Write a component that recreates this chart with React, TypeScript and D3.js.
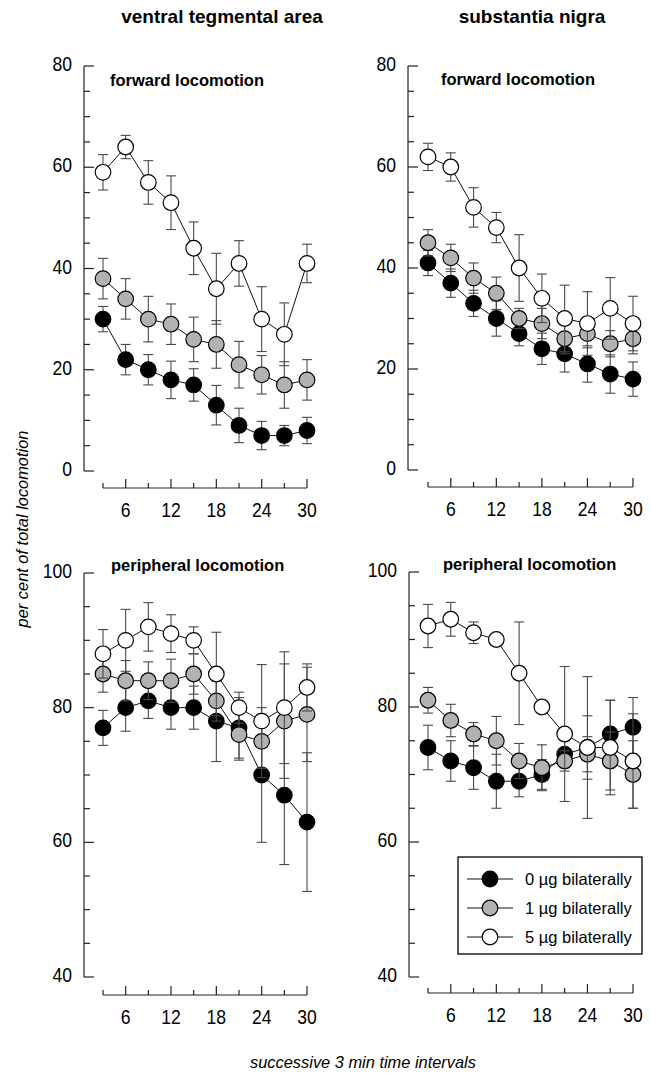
import { useRef, useEffect } from 'react'
import * as d3 from 'd3'

// time intervals (min)
const intervals = [3, 6, 9, 12, 15, 18, 21, 24, 27, 30]
const xTicks = [3, 6, 9, 12, 15, 18, 21, 24, 27, 30]
const xTickLabels = [6, 12, 18, 24, 30]

const doseLabels = ['0 µg bilaterally', '1 µg bilaterally', '5 µg bilaterally']
const doseFills = ['#000000', '#b2b2b2', '#ffffff']

// ventral tegmental area - forward locomotion
const vtaFwd0 = [30, 22, 20, 18, 17, 13, 9, 7, 7, 8]
const vtaFwd0Err = [2.5, 3, 3, 3.7, 3.2, 3.9, 3.4, 2.8, 2, 2.6]
const vtaFwd1 = [38, 34, 30, 29, 26, 25, 21, 19, 17, 18]
const vtaFwd1Err = [4, 4, 4.5, 4, 4.4, 4.7, 4.6, 3.8, 4.6, 4]
const vtaFwd5 = [59, 64, 57, 53, 44, 36, 41, 30, 27, 41]
const vtaFwd5Err = [3.5, 2.3, 4.3, 5.3, 5.2, 7, 4.5, 6.4, 6.2, 3.8]

// substantia nigra - forward locomotion
const snFwd0 = [41, 37, 33, 30, 27, 24, 23, 21, 19, 18]
const snFwd0Err = [2.5, 2.8, 2.6, 3.5, 2.4, 3.1, 3.6, 3.6, 3.8, 3.4]
const snFwd1 = [45, 42, 38, 35, 30, 29, 26, 27, 25, 26]
const snFwd1Err = [2.6, 2.7, 3, 3.2, 2, 3, 3, 2.8, 2.6, 3]
const snFwd5 = [62, 60, 52, 48, 40, 34, 30, 29, 32, 29]
const snFwd5Err = [2.7, 2.8, 3.9, 3, 6.6, 4.8, 6.6, 6.3, 6.1, 5.4]

// ventral tegmental area - peripheral locomotion
const vtaPer0 = [77, 80, 81, 80, 80, 78, 77, 70, 67, 63]
const vtaPer0Err = [2.6, 3.5, 2.6, 3.2, 3.2, 6, 4.5, 10, 10.3, 10.3]
const vtaPer1 = [85, 84, 84, 84, 85, 81, 76, 75, 78, 79]
const vtaPer1Err = [2.7, 3, 2.8, 3.2, 3, 3, 3.8, 4, 8.5, 7]
const vtaPer5 = [88, 90, 92, 91, 90, 85, 80, 78, 80, 83]
const vtaPer5Err = [3.6, 4.6, 3.6, 2.8, 2, 6.2, 2.3, 8.4, 8.3, 3.5]

// substantia nigra - peripheral locomotion
const snPer0 = [74, 72, 71, 69, 69, 70, 73, 74, 76, 77]
const snPer0Err = [3.3, 3, 3.2, 4, 2.3, 2.2, 2, 4.7, 5, 4.4]
const snPer1 = [81, 78, 76, 75, 72, 71, 72, 73, 72, 70]
const snPer1Err = [1.9, 2.4, 1.7, 3.6, 2.6, 3.4, 1.5, 2.6, 4.3, 5]
const snPer5 = [92, 93, 91, 90, 85, 80, 76, 74, 74, 72]
const snPer5Err = [3.2, 2.5, 1.6, 0.5, 7.6, 0.5, 10, 10.5, 7, 7]

const fwdYTicks = [0, 20, 40, 60, 80]
const perYTicks = [40, 60, 80, 100]

const FONT = "'Liberation Sans', Arial, Helvetica, sans-serif"

interface Panel {
  title: string
  yDomain: [number, number]
  yTicks: number[]
  xRange: [number, number]
  yRange: [number, number]
  axisX: number
  axisY: number
  titleX: number
  titleY: number
  series: { values: number[]; errs: number[]; fill: string }[]
}

const panels: Panel[] = [
  {
    title: 'forward locomotion', yDomain: [0, 80], yTicks: fwdYTicks,
    xRange: [103, 307], yRange: [471, 66], axisX: 84, axisY: 488, titleX: 110, titleY: 86,
    series: [
      { values: vtaFwd0, errs: vtaFwd0Err, fill: doseFills[0] },
      { values: vtaFwd1, errs: vtaFwd1Err, fill: doseFills[1] },
      { values: vtaFwd5, errs: vtaFwd5Err, fill: doseFills[2] },
    ],
  },
  {
    title: 'forward locomotion', yDomain: [0, 80], yTicks: fwdYTicks,
    xRange: [428, 633], yRange: [470, 66], axisX: 408, axisY: 487, titleX: 441, titleY: 85,
    series: [
      { values: snFwd0, errs: snFwd0Err, fill: doseFills[0] },
      { values: snFwd1, errs: snFwd1Err, fill: doseFills[1] },
      { values: snFwd5, errs: snFwd5Err, fill: doseFills[2] },
    ],
  },
  {
    title: 'peripheral locomotion', yDomain: [40, 100], yTicks: perYTicks,
    xRange: [103, 307], yRange: [977, 573], axisX: 84, axisY: 995, titleX: 111, titleY: 571,
    series: [
      { values: vtaPer0, errs: vtaPer0Err, fill: doseFills[0] },
      { values: vtaPer1, errs: vtaPer1Err, fill: doseFills[1] },
      { values: vtaPer5, errs: vtaPer5Err, fill: doseFills[2] },
    ],
  },
  {
    title: 'peripheral locomotion', yDomain: [40, 100], yTicks: perYTicks,
    xRange: [428, 633], yRange: [977, 572], axisX: 409, axisY: 993, titleX: 443, titleY: 570,
    series: [
      { values: snPer0, errs: snPer0Err, fill: doseFills[0] },
      { values: snPer1, errs: snPer1Err, fill: doseFills[1] },
      { values: snPer5, errs: snPer5Err, fill: doseFills[2] },
    ],
  },
]

export default function App() {
  const svgRef = useRef<SVGSVGElement>(null)

  useEffect(() => {
    const svg = d3.select(svgRef.current)
    svg.selectAll('*').remove()

    // column headings
    svg.append('text').attr('x', 222).attr('y', 23).attr('text-anchor', 'middle')
      .attr('font-size', 19).attr('font-weight', 'bold').text('ventral tegmental area')
    svg.append('text').attr('x', 532).attr('y', 23).attr('text-anchor', 'middle')
      .attr('font-size', 19).attr('font-weight', 'bold').text('substantia nigra')

    panels.forEach(p => {
      const x = d3.scaleLinear().domain([3, 30]).range(p.xRange)
      const y = d3.scaleLinear().domain(p.yDomain).range(p.yRange)
      const g = svg.append('g')

      // y axis (ticks pointing inward)
      const minor = d3.range(p.yDomain[0], p.yDomain[1] + 0.1, 5)
      g.append('line').attr('x1', p.axisX).attr('x2', p.axisX)
        .attr('y1', y(p.yDomain[0])).attr('y2', y(p.yDomain[1]))
        .attr('stroke', '#222').attr('stroke-width', 1.2)
      g.selectAll('.ytick').data(minor).enter().append('line')
        .attr('x1', p.axisX)
        .attr('x2', d => p.axisX + (p.yTicks.includes(d) ? 10 : 6))
        .attr('y1', d => y(d)).attr('y2', d => y(d))
        .attr('stroke', '#222').attr('stroke-width', 1.2)
      // narrow-looking numerals
      g.selectAll('.ylab').data(p.yTicks).enter().append('text')
        .attr('transform', d => `translate(${p.axisX - 12},${y(d) + 5}) scale(0.9,1)`)
        .attr('text-anchor', 'end').attr('font-size', 19.5)
        .text(d => d)

      // x axis (separate line below, ticks pointing up)
      g.append('line').attr('x1', x(3)).attr('x2', x(30))
        .attr('y1', p.axisY).attr('y2', p.axisY)
        .attr('stroke', '#222').attr('stroke-width', 1.2)
      g.selectAll('.xtick').data(xTicks).enter().append('line')
        .attr('x1', d => x(d)).attr('x2', d => x(d))
        .attr('y1', p.axisY)
        .attr('y2', d => p.axisY - (d % 6 === 0 ? 9 : 5))
        .attr('stroke', '#222').attr('stroke-width', 1.2)
      g.selectAll('.xlab').data(xTickLabels).enter().append('text')
        .attr('transform', d => `translate(${x(d)},${p.axisY + 29}) scale(0.9,1)`)
        .attr('text-anchor', 'middle').attr('font-size', 19.5)
        .text(d => d)

      // panel title
      g.append('text').attr('x', p.titleX).attr('y', p.titleY)
        .attr('font-size', 16.5).attr('font-weight', 'bold').text(p.title)

      // series
      const line = d3.line<number>().x((_, i) => x(intervals[i])).y(d => y(d))
      p.series.forEach(s => {
        const sg = g.append('g')
        s.values.forEach((v, i) => {
          const cx = x(intervals[i])
          const lo = y(v - s.errs[i]), hi = y(v + s.errs[i])
          sg.append('line').attr('x1', cx).attr('x2', cx).attr('y1', lo).attr('y2', hi)
            .attr('stroke', '#4a4a4a').attr('stroke-width', 1.1)
          ;[lo, hi].forEach(yy => {
            sg.append('line').attr('x1', cx - 5).attr('x2', cx + 5).attr('y1', yy).attr('y2', yy)
              .attr('stroke', '#4a4a4a').attr('stroke-width', 1.1)
          })
        })
        sg.append('path').datum(s.values).attr('d', line)
          .attr('fill', 'none').attr('stroke', '#111').attr('stroke-width', 1)
        sg.selectAll('circle').data(s.values).enter().append('circle')
          .attr('cx', (_, i) => x(intervals[i])).attr('cy', d => y(d))
          .attr('r', 7.8).attr('fill', s.fill)
          .attr('stroke', '#000').attr('stroke-width', 1.2)
      })
    })

    // legend
    const leg = svg.append('g')
    leg.append('rect').attr('x', 458).attr('y', 857).attr('width', 184).attr('height', 97)
      .attr('fill', '#fff').attr('stroke', '#000').attr('stroke-width', 1.3)
    const legY = d3.scalePoint<string>().domain(doseLabels).range([879, 937])
    doseLabels.forEach((lab, i) => {
      const ly = legY(lab)!
      leg.append('line').attr('x1', 467).attr('x2', 513).attr('y1', ly).attr('y2', ly)
        .attr('stroke', '#111').attr('stroke-width', 1)
      leg.append('circle').attr('cx', 490).attr('cy', ly).attr('r', 7.8)
        .attr('fill', doseFills[i]).attr('stroke', '#000').attr('stroke-width', 1.2)
      leg.append('text').attr('x', 525).attr('y', ly + 6).attr('font-size', 16.5).text(lab)
    })

    // axis titles
    svg.append('text').attr('transform', 'translate(28,529) rotate(-90)')
      .attr('text-anchor', 'middle').attr('font-size', 16.4).attr('font-style', 'italic')
      .text('per cent of total locomotion')
    svg.append('text').attr('x', 363).attr('y', 1068)
      .attr('text-anchor', 'middle').attr('font-size', 16.4).attr('font-style', 'italic')
      .text('successive 3 min time intervals')
  }, [])

  return (
    <svg ref={svgRef} width={651} height={1074}
      style={{ position: 'absolute', left: 0, top: 0, background: '#fff', fontFamily: FONT }} />
  )
}
